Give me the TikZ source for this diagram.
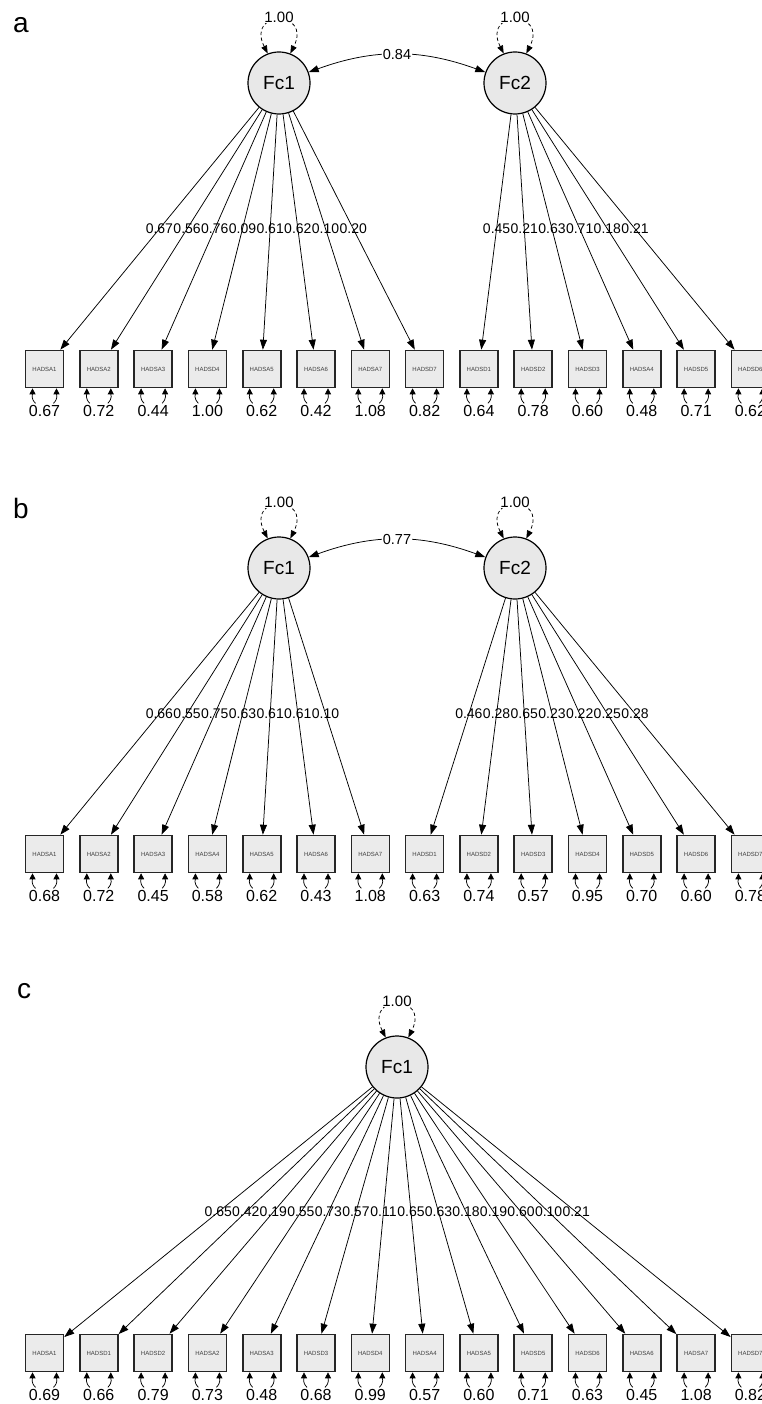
\documentclass[tikz,border=0pt]{standalone}
\usepackage{fontspec}
\setmainfont{Liberation Sans}
\usetikzlibrary{arrows.meta,calc}
\definecolor{boxfill}{HTML}{EBEBEB}
\definecolor{latfill}{HTML}{E8E8E8}
\tikzset{
  latent/.style={circle, draw=black, line width=1.2pt, fill=latfill, minimum size=62pt, inner sep=0pt, font=\fontsize{19}{19}\selectfont},
  obs/.style={rectangle, draw=black!85, line width=1.6pt, fill=boxfill, minimum width=38pt, minimum height=37pt, inner sep=0pt, font=\fontsize{6}{6}\selectfont, text=black!75},
  load/.style={-{Triangle[length=10pt,width=7pt]}, line width=0.75pt},
  loadlab/.style={font=\fontsize{14}{14}\selectfont, inner sep=0pt},
  cov/.style={{Triangle[length=10pt,width=7pt]}-{Triangle[length=10pt,width=7pt]}, line width=0.75pt},
  covlab/.style={fill=white, inner sep=1pt, font=\fontsize{14.5}{14.5}\selectfont},
  varloop/.style={dash pattern=on 3.5pt off 2.5pt, line width=0.75pt, {Triangle[length=8pt,width=6pt]}-{Triangle[length=8pt,width=6pt]}},
  varlab/.style={fill=white, inner sep=1pt, font=\fontsize{15}{15}\selectfont},
  resid/.style={-{Triangle[length=6pt,width=6pt]}, line width=0.75pt},
  residlab/.style={font=\fontsize{16}{16}\selectfont, inner sep=0pt},
  panel/.style={font=\fontsize{28}{28}\selectfont, anchor=base, inner sep=0pt},
}
\newcommand{\ResidPair}[2]{%
  \draw[resid] ($(#1.south)+(-9,15)$) .. controls +(-5,-5) and +(0,6) .. ($(#1.south)+(-12,0)$);
  \draw[resid] ($(#1.south)+(9,15)$) .. controls +(5,-5) and +(0,6) .. ($(#1.south)+(12,0)$);
  \node[residlab] (#1r) at ($(#1.south)+(0,22.5)$) {#2};}
\newcommand{\VarLoop}[2]{%
  \draw[varloop] (#1.111) .. controls +(-22,-44) and +(22,-44) .. (#1.69);
  \node[varlab] (#2) at ($(#1)+(0,-66)$) {1.00};}
\begin{document}
\begin{tikzpicture}[x=1pt,y=-1pt]
\useasboundingbox (0,0) rectangle (762,1404);
\clip (0,0) rectangle (762,1404);

% ---------------- panel a ----------------
\node[panel] (pa) at (21,33) {a};
\node[latent] (aF1) at (279,83) {Fc1};
\node[latent] (aF2) at (515,83) {Fc2};
\VarLoop{aF1}{aV1}
\VarLoop{aF2}{aV2}
\draw[cov] (aF1) to[bend left=20] node[covlab] (aC) {0.84} (aF2);
\foreach \n/\r [count=\i] in {HADSA1/0.67,HADSA2/0.72,HADSA3/0.44,HADSD4/1.00,HADSA5/0.62,HADSA6/0.42,HADSA7/1.08,HADSD7/0.82,HADSD1/0.64,HADSD2/0.78,HADSD3/0.60,HADSA4/0.48,HADSD5/0.71,HADSD6/0.62}{
  \node[obs] (a\i) at ({44.5+54.3*(\i-1)},369) {\n};
  \ResidPair{a\i}{\r}
}
\foreach \v [count=\i] in {0.67,0.56,0.76,0.09,0.61,0.62,0.10,0.20}{
  \draw[load] (aF1) -- (a\i);
  \node[loadlab] (aL\i) at ($(aF1)!0.51!(a\i)$) {\v};
}
\foreach \v [count=\k] in {0.45,0.21,0.63,0.71,0.18,0.21}{
  \pgfmathtruncatemacro{\i}{\k+8}
  \draw[load] (aF2) -- (a\i);
  \node[loadlab] (aL\i) at ($(aF2)!0.51!(a\i)$) {\v};
}

% ---------------- panel b ----------------
\node[panel] (pb) at (21,518) {b};
\node[latent] (bF1) at (279,568) {Fc1};
\node[latent] (bF2) at (515,568) {Fc2};
\VarLoop{bF1}{bV1}
\VarLoop{bF2}{bV2}
\draw[cov] (bF1) to[bend left=20] node[covlab] (bC) {0.77} (bF2);
\foreach \n/\r [count=\i] in {HADSA1/0.68,HADSA2/0.72,HADSA3/0.45,HADSA4/0.58,HADSA5/0.62,HADSA6/0.43,HADSA7/1.08,HADSD1/0.63,HADSD2/0.74,HADSD3/0.57,HADSD4/0.95,HADSD5/0.70,HADSD6/0.60,HADSD7/0.78}{
  \node[obs] (b\i) at ({44.5+54.3*(\i-1)},854) {\n};
  \ResidPair{b\i}{\r}
}
\foreach \v [count=\i] in {0.66,0.55,0.75,0.63,0.61,0.61,0.10}{
  \draw[load] (bF1) -- (b\i);
  \node[loadlab] (bL\i) at ($(bF1)!0.51!(b\i)$) {\v};
}
\foreach \v [count=\k] in {0.46,0.28,0.65,0.23,0.22,0.25,0.28}{
  \pgfmathtruncatemacro{\i}{\k+7}
  \draw[load] (bF2) -- (b\i);
  \node[loadlab] (bL\i) at ($(bF2)!0.51!(b\i)$) {\v};
}

% ---------------- panel c ----------------
\node[panel] (pc) at (24,998) {c};
\node[latent] (cF1) at (397,1067) {Fc1};
\VarLoop{cF1}{cV1}
\foreach \n/\r [count=\i] in {HADSA1/0.69,HADSD1/0.66,HADSD2/0.79,HADSA2/0.73,HADSA3/0.48,HADSD3/0.68,HADSD4/0.99,HADSA4/0.57,HADSA5/0.60,HADSD5/0.71,HADSD6/0.63,HADSA6/0.45,HADSA7/1.08,HADSD7/0.82}{
  \node[obs] (c\i) at ({44.5+54.3*(\i-1)},1353) {\n};
  \ResidPair{c\i}{\r}
}
\foreach \v [count=\i] in {0.65,0.42,0.19,0.55,0.73,0.57,0.11,0.65,0.63,0.18,0.19,0.60,0.10,0.21}{
  \draw[load] (cF1) -- (c\i);
  \node[loadlab] (cL\i) at ($(cF1)!0.507!(c\i)$) {\v};
}
\end{tikzpicture}
\end{document}
